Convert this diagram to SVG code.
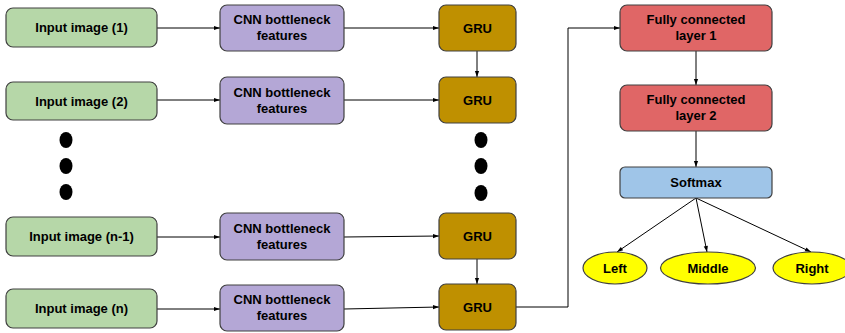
<svg xmlns="http://www.w3.org/2000/svg" width="845" height="333" viewBox="0 0 845 333">
<style>
text{font-family:"Liberation Sans",Arial,sans-serif;font-weight:bold;font-size:13px;fill:#000;text-anchor:middle}
.box{stroke:#404040;stroke-width:1.2}
.in{fill:#b6d7a8}
.cnn{fill:#b4a7d6}
.gru{fill:#bf9000}
.fc{fill:#e06666}
.sm{fill:#9fc5e8}
.out{fill:#ffff00;stroke:#404040;stroke-width:1.2}
.c{fill:none;stroke:#000;stroke-width:1;marker-end:url(#ah)}
.dot{fill:#000}
</style>
<defs>
<marker id="ah" viewBox="0 0 10 10" refX="10" refY="5" markerWidth="8" markerHeight="6" markerUnits="userSpaceOnUse" orient="auto">
<path d="M0,1.5 L10,5 L0,8.5 z" fill="#000"/>
</marker>
</defs>
<rect width="845" height="333" fill="#fff"/>
<g id="connectors">
<path class="c" d="M157,28 L220,28"/>
<path class="c" d="M157,100 L220,100"/>
<path class="c" d="M157,237 L220,237"/>
<path class="c" d="M157,309 L220,309"/>
<path class="c" d="M344,28 L439,28"/>
<path class="c" d="M344,100 L439,100"/>
<path class="c" d="M344,237 L439,236"/>
<path class="c" d="M344,309 L439,307"/>
<path class="c" d="M477,51 L477,77"/>
<path class="c" d="M477,259 L477,284"/>
<path class="c" d="M516,307 L568,307 L568,28 L620,28"/>
<path class="c" d="M696,51 L696,85"/>
<path class="c" d="M696,131 L696,167"/>
<path class="c" d="M696,198 L617,252"/>
<path class="c" d="M696,198 L707,252"/>
<path class="c" d="M696,198 L811,252"/>
</g>
<g id="in1"><rect class="box in" x="6" y="8" width="151" height="39" rx="7"/><text x="81.5" y="32">Input image (1)</text></g>
<g id="in2"><rect class="box in" x="6" y="82" width="151" height="38" rx="7"/><text x="81.5" y="105.5">Input image (2)</text></g>
<g id="in3"><rect class="box in" x="6" y="217" width="151" height="39" rx="7"/><text x="81.5" y="241">Input image (n-1)</text></g>
<g id="in4"><rect class="box in" x="6" y="289" width="151" height="39" rx="7"/><text x="81.5" y="313">Input image (n)</text></g>
<g id="cnn1"><rect class="box cnn" x="220" y="5" width="124" height="46" rx="7"/><text x="282" y="24">CNN bottleneck</text><text x="282" y="40">features</text></g>
<g id="cnn2"><rect class="box cnn" x="220" y="77" width="124" height="47" rx="7"/><text x="282" y="96.5">CNN bottleneck</text><text x="282" y="112.5">features</text></g>
<g id="cnn3"><rect class="box cnn" x="220" y="213" width="124" height="47" rx="7"/><text x="282" y="232.5">CNN bottleneck</text><text x="282" y="248.5">features</text></g>
<g id="cnn4"><rect class="box cnn" x="220" y="285" width="124" height="46" rx="7"/><text x="282" y="304">CNN bottleneck</text><text x="282" y="320">features</text></g>
<g id="gru1"><rect class="box gru" x="439" y="5" width="77" height="46" rx="7"/><text x="477.5" y="32.5">GRU</text></g>
<g id="gru2"><rect class="box gru" x="439" y="77" width="77" height="46" rx="7"/><text x="477.5" y="104.5">GRU</text></g>
<g id="gru3"><rect class="box gru" x="439" y="213" width="77" height="46" rx="7"/><text x="477.5" y="240.5">GRU</text></g>
<g id="gru4"><rect class="box gru" x="439" y="284" width="77" height="46" rx="7"/><text x="477.5" y="311.5">GRU</text></g>
<g id="dotsL"><ellipse class="dot" cx="66" cy="140" rx="6.5" ry="8"/><ellipse class="dot" cx="66" cy="166" rx="6.5" ry="8"/><ellipse class="dot" cx="66" cy="192" rx="6.5" ry="8"/></g>
<g id="dotsR"><ellipse class="dot" cx="481" cy="140" rx="6.5" ry="8"/><ellipse class="dot" cx="481" cy="166" rx="6.5" ry="8"/><ellipse class="dot" cx="481" cy="193" rx="6.5" ry="8"/></g>
<g id="fc1"><rect class="box fc" x="620" y="5" width="152" height="46" rx="7"/><text x="696" y="24">Fully connected</text><text x="696" y="40">layer 1</text></g>
<g id="fc2"><rect class="box fc" x="620" y="85" width="152" height="46" rx="7"/><text x="696" y="104">Fully connected</text><text x="696" y="120">layer 2</text></g>
<g id="softmax"><rect class="box sm" x="620" y="167" width="152" height="31" rx="5"/><text x="696" y="187">Softmax</text></g>
<g id="left"><ellipse class="out" cx="615" cy="268" rx="32" ry="16"/><text x="615" y="273">Left</text></g>
<g id="middle"><ellipse class="out" cx="708" cy="268" rx="47.5" ry="16"/><text x="708" y="273">Middle</text></g>
<g id="right"><ellipse class="out" cx="812" cy="268" rx="39" ry="16"/><text x="812" y="273">Right</text></g>
</svg>
